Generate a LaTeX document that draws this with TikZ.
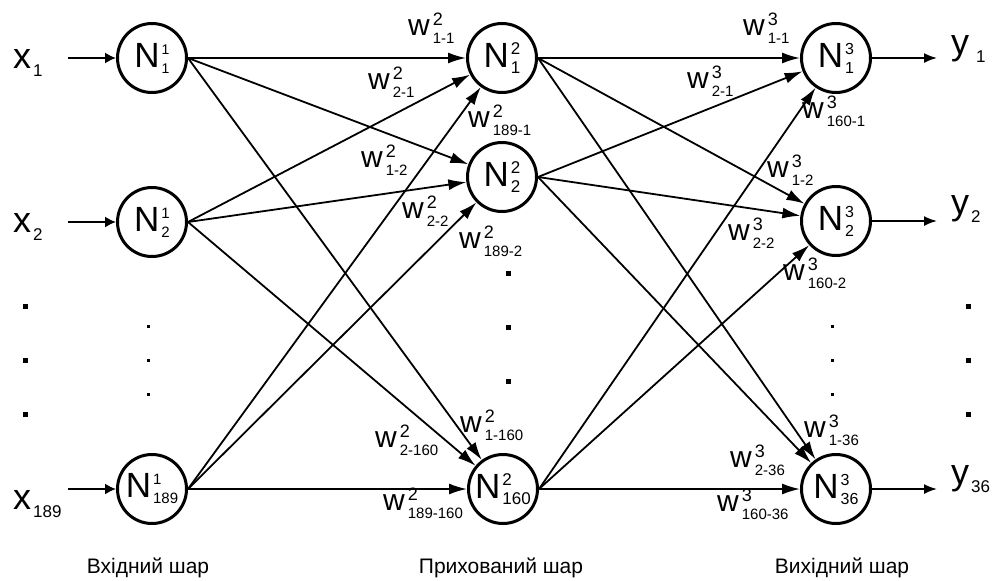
\documentclass[tikz,border=0pt]{standalone}
\usepackage{fontspec}
\setmainfont{Liberation Sans}
\usetikzlibrary{arrows.meta}
\newcommand{\sz}[1]{\fontsize{#1}{#1}\selectfont}
\newcommand{\NLab}[3]{{\sz{35}N}\kern2pt\makebox[0pt][l]{\raisebox{13pt}{\sz{#1}#2}}\raisebox{-6pt}{\sz{#1}#3}}
\newcommand{\WLab}[2]{{\sz{30}w}\kern3pt\makebox[0pt][l]{\raisebox{10pt}{\sz{18}#1}}\raisebox{-8pt}{\sz{15}#2}}
\newcommand{\XLab}[3]{{\sz{36}#1}\kern#3\raisebox{-8pt}{\sz{17}#2}}
\tikzset{
  neuron/.style={circle, draw, line width=3pt, minimum size=69pt, inner sep=0pt, fill=white},
  wl/.style={anchor=base west, inner sep=0pt},
  io/.style={anchor=base west, inner sep=0pt},
  layerlab/.style={anchor=base, inner sep=0pt, font=\sz{21}},
  edge/.style={line width=1.8pt, -{Latex[length=18pt,width=11pt]}},
  inedge/.style={line width=1.8pt, -{Latex[length=11pt,width=11pt]}},
  outedge/.style={line width=1.8pt, -{Latex[length=13pt,width=10pt]}},
}
\begin{document}
\begin{tikzpicture}[x=1pt,y=-1pt]
\useasboundingbox (0,0) rectangle (996,581);
% neurons
\node[neuron] (n11) at (152,58) {\NLab{14}{1}{1}};
\node[neuron] (n12) at (152,222) {\NLab{15}{1}{2}};
\node[neuron] (n1c) at (152,489) {\NLab{15}{1}{189}};
\node[neuron] (n21) at (502,58) {\NLab{17}{2}{1}};
\node[neuron] (n22) at (502,177) {\NLab{17}{2}{2}};
\node[neuron] (n2c) at (503,489) {\NLab{17}{2}{160}};
\node[neuron] (n31) at (836,58) {\NLab{16}{3}{1}};
\node[neuron] (n32) at (836,221) {\NLab{16}{3}{2}};
\node[neuron] (n3c) at (836,489) {\NLab{16}{3}{36}};
% inputs
\node[io] (x1) at (13,68) {\XLab{x}{1}{2pt}};
\node[io] (x2) at (13,232) {\XLab{x}{2}{2pt}};
\node[io] (xc) at (13,509) {\XLab{x}{189}{2pt}};
\coordinate (i1) at (68,58);
\coordinate (i2) at (68,222);
\coordinate (ic) at (68,489);
\draw[inedge] (i1) -- (n11);
\draw[inedge] (i2) -- (n12);
\draw[inedge] (ic) -- (n1c);
% outputs
\node[io] (y1) at (951,54) {\XLab{y}{1}{7pt}};
\node[io] (y2) at (951,214) {\XLab{y}{2}{2pt}};
\node[io] (yc) at (951,484) {\XLab{y}{36}{2pt}};
\coordinate (o1) at (937,58);
\coordinate (o2) at (937,221);
\coordinate (oc) at (937,489);
\draw[outedge] (n31) -- (o1);
\draw[outedge] (n32) -- (o2);
\draw[outedge] (n3c) -- (oc);
% layer 1 -> layer 2
\foreach \s in {n11,n12,n1c}{
  \foreach \t in {n21,n22,n2c}{
    \draw[edge] (\s.east) -- (\t);
  }
}
% layer 2 -> layer 3
\foreach \s in {n21,n22,n2c}{
  \foreach \t in {n31,n32,n3c}{
    \draw[edge] (\s.east) -- (\t);
  }
}
% weight labels layer 2
\node[wl] (wa1) at (408,35) {\WLab{2}{1-1}};
\node[wl] (wa2) at (368,89) {\WLab{2}{2-1}};
\node[wl] (wa3) at (468,127) {\WLab{2}{189-1}};
\node[wl] (wa4) at (361,167) {\WLab{2}{1-2}};
\node[wl] (wa5) at (402,218) {\WLab{2}{2-2}};
\node[wl] (wa6) at (459,248) {\WLab{2}{189-2}};
\node[wl] (wa7) at (460,432) {\WLab{2}{1-160}};
\node[wl] (wa8) at (375,447) {\WLab{2}{2-160}};
\node[wl] (wa9) at (383,510) {\WLab{2}{189-160}};
% weight labels layer 3
\node[wl] (wb1) at (743,35) {\WLab{3}{1-1}};
\node[wl] (wb2) at (687,88) {\WLab{3}{2-1}};
\node[wl] (wb3) at (802,118) {\WLab{3}{160-1}};
\node[wl] (wb4) at (767,177) {\WLab{3}{1-2}};
\node[wl] (wb5) at (728,240) {\WLab{3}{2-2}};
\node[wl] (wb6) at (783,280) {\WLab{3}{160-2}};
\node[wl] (wb7) at (804,437) {\WLab{3}{1-36}};
\node[wl] (wb8) at (730,467) {\WLab{3}{2-36}};
\node[wl] (wb9) at (717,511) {\WLab{3}{160-36}};
% dots
\foreach \y in {306,360,414}{
  \fill (25-2.5,\y-2.5) rectangle ++(5,5);
  \fill (968-2.5,\y-2.5) rectangle ++(5,5);
}
\foreach \y in {326,360,394}{
  \fill (148-1.5,\y-1.5) rectangle ++(3,3);
  \fill (832-1.5,\y-1.5) rectangle ++(3,3);
}
\foreach \y in {273,327,381}{
  \fill (508-2.5,\y-2.5) rectangle ++(5,5);
}
% layer labels
\node[layerlab] (l1) at (148,573) {Вхідний шар};
\node[layerlab] (l2) at (501,573) {Прихований шар};
\node[layerlab] (l3) at (842,573) {Вихідний шар};
\end{tikzpicture}
\end{document}
